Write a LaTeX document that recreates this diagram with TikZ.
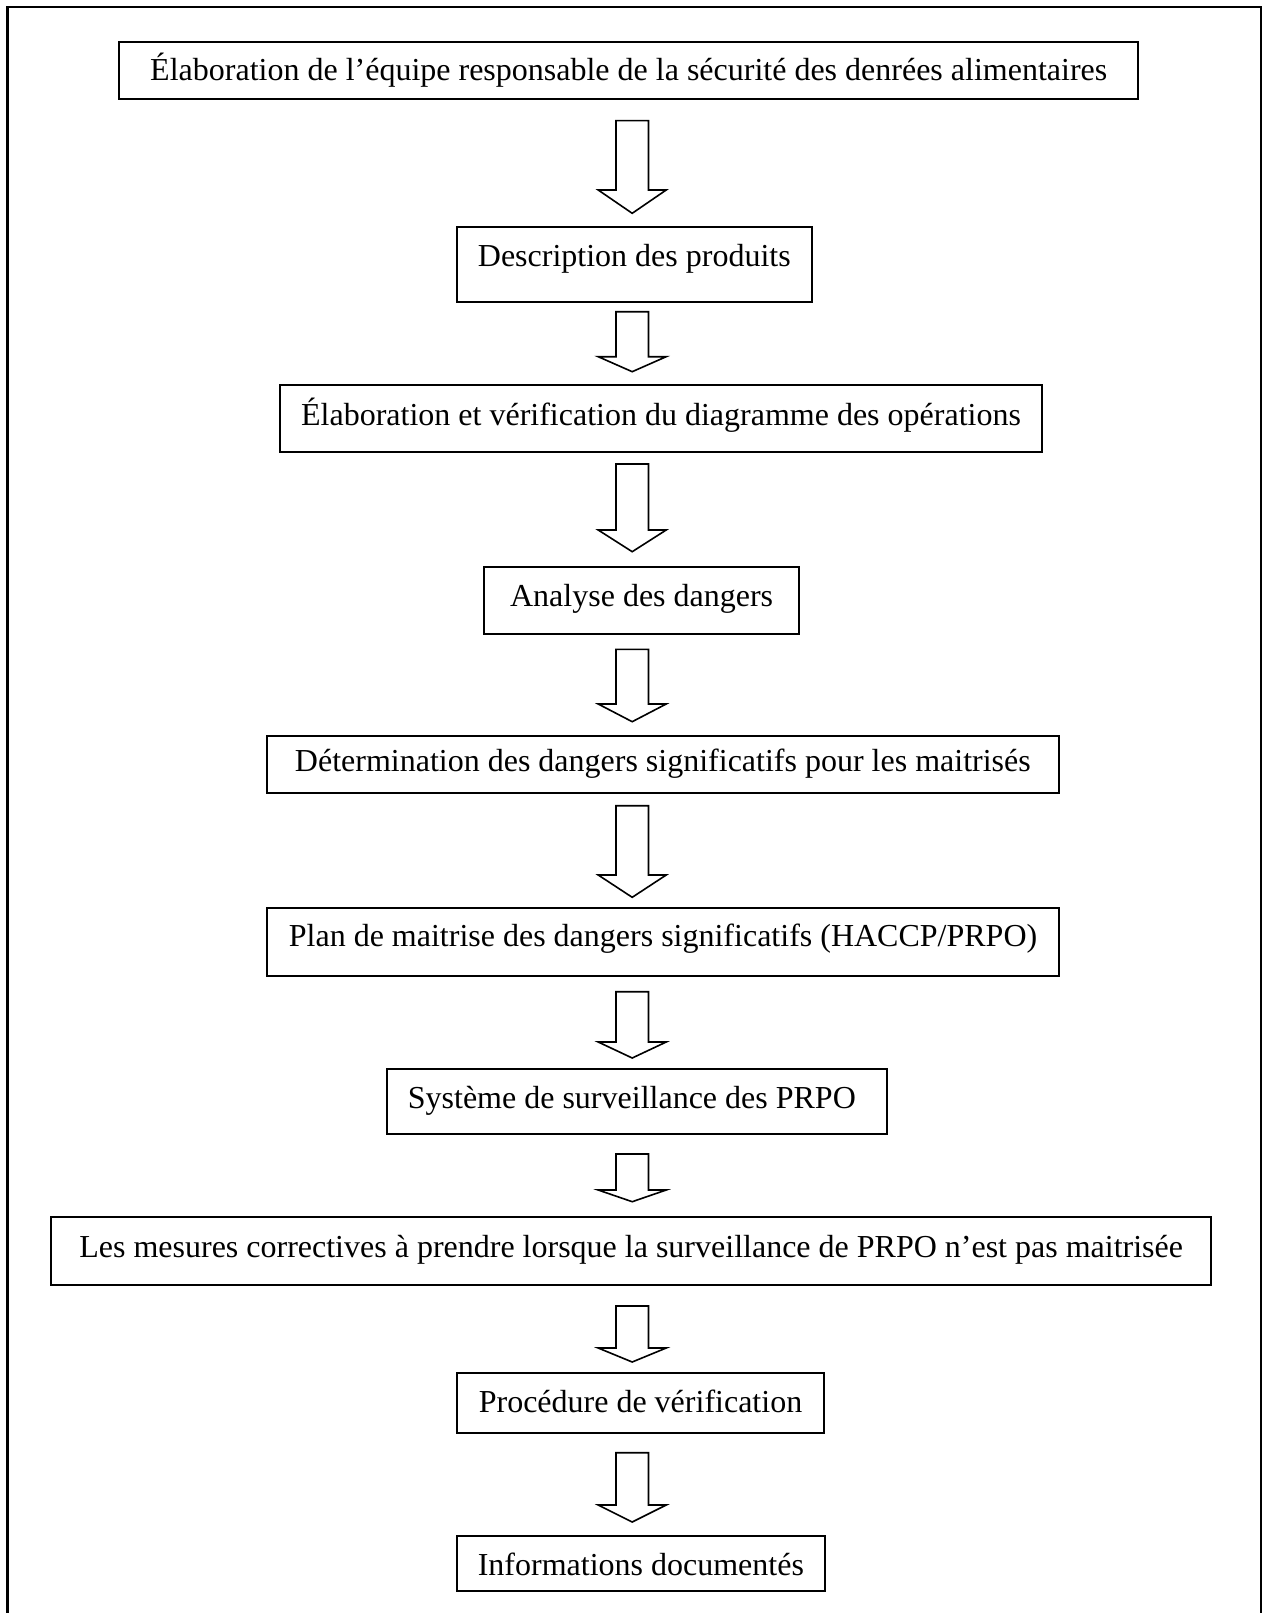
\documentclass[tikz,border=0pt]{standalone}
\usepackage{fontspec}
\setmainfont{Liberation Serif}
\usetikzlibrary{calc}

\tikzset{
  stepbox/.style={draw, line width=2pt, inner sep=0pt, outer sep=0pt,
    font=\fontsize{32}{38}\selectfont},
  blockarrow/.style={draw, line width=1.6pt, line join=miter, fill=white},
  frame/.style={draw, line width=2.4pt}
}

% block arrow between two steps, on the common axis:
% #1 from, #2 to, #3 gap below #1, #4 gap above #2, #5 head length
\newcommand\flowarrow[5]{%
  \path (#1.south -| axis) coordinate (u) (#2.north -| axis) coordinate (v);
  \draw[blockarrow]
    ($(u)+(-16.25,#3)$) -- ($(u)+(16.25,#3)$)
    -- ($(v)+(16.25,-#4-#5)$) -- ($(v)+(34,-#4-#5)$)
    -- ($(v)+(0,-#4)$)
    -- ($(v)+(-34,-#4-#5)$) -- ($(v)+(-16.25,-#4-#5)$) -- cycle;}

\begin{document}
\begin{tikzpicture}[x=1pt, y=-1pt]
\useasboundingbox (0,0) rectangle (1265,1613);

% page frame, open at the bottom
\draw[frame] (7.3,1613) -- (7.3,7.3) -- (1261,7.3) -- (1261,1613);

\coordinate (axis) at (632.2,0);

% steps (text height = 2*offset+5, text depth = 5 sets the baseline)
\node[stepbox, minimum width=1019.3pt, minimum height=57.3pt, text height=26.2pt, text depth=5pt]
  (b1) at (628.7,70.35) {Élaboration de l’équipe responsable de la sécurité des denrées alimentaires};
\node[stepbox, minimum width=355.3pt, minimum height=74.7pt, text height=9.6pt, text depth=5pt]
  (b2) at (634.35,264.35) {Description des produits};
\node[stepbox, minimum width=762.6pt, minimum height=66.7pt, text height=18.4pt, text depth=5pt]
  (b3) at (661,418.35) {Élaboration et vérification du diagramme des opérations};
\node[stepbox, minimum width=314.7pt, minimum height=66.7pt, text height=17.6pt, text depth=5pt]
  (b4) at (641.65,600.35) {Analyse des dangers};
\node[stepbox, minimum width=791.7pt, minimum height=57pt, text height=18.6pt, text depth=5pt]
  (b5) at (662.85,764.2) {Détermination des dangers significatifs pour les maitrisés};
\node[stepbox, minimum width=791.3pt, minimum height=67.7pt, text height=14pt, text depth=5pt]
  (b6) at (663.05,942.15) {Plan de maitrise des dangers significatifs (HACCP/PRPO)};
\node[stepbox, minimum width=499.7pt, minimum height=65pt, text height=18pt, text depth=5pt]
  (b7) at (636.85,1101.8) {Système de surveillance des PRPO\hspace*{10pt}};
\node[stepbox, minimum width=1159.7pt, minimum height=68.3pt, text height=18.6pt, text depth=5pt]
  (b8) at (631.15,1250.85) {Les mesures correctives à prendre lorsque la surveillance de PRPO n’est pas maitrisée};
\node[stepbox, minimum width=367.6pt, minimum height=60pt, text height=25pt, text depth=5pt]
  (b9) at (640.5,1402.7) {Procédure de vérification};
\node[stepbox, minimum width=368.3pt, minimum height=55pt, text height=28.6pt, text depth=5pt]
  (b10) at (640.85,1563.2) {Informations documentés};

% connecting block arrows
\flowarrow{b1}{b2}{21.7}{13.7}{23.3}
\flowarrow{b2}{b3}{10}{13.3}{15}
\flowarrow{b3}{b4}{12.3}{15.3}{21.7}
\flowarrow{b4}{b5}{15.6}{14}{17.7}
\flowarrow{b5}{b6}{13}{11}{22.3}
\flowarrow{b6}{b7}{15.7}{11.3}{16}
\flowarrow{b7}{b8}{19.7}{15}{11.7}
\flowarrow{b8}{b9}{21}{10.7}{14}
\flowarrow{b9}{b10}{20}{13.7}{17}
\end{tikzpicture}
\end{document}
